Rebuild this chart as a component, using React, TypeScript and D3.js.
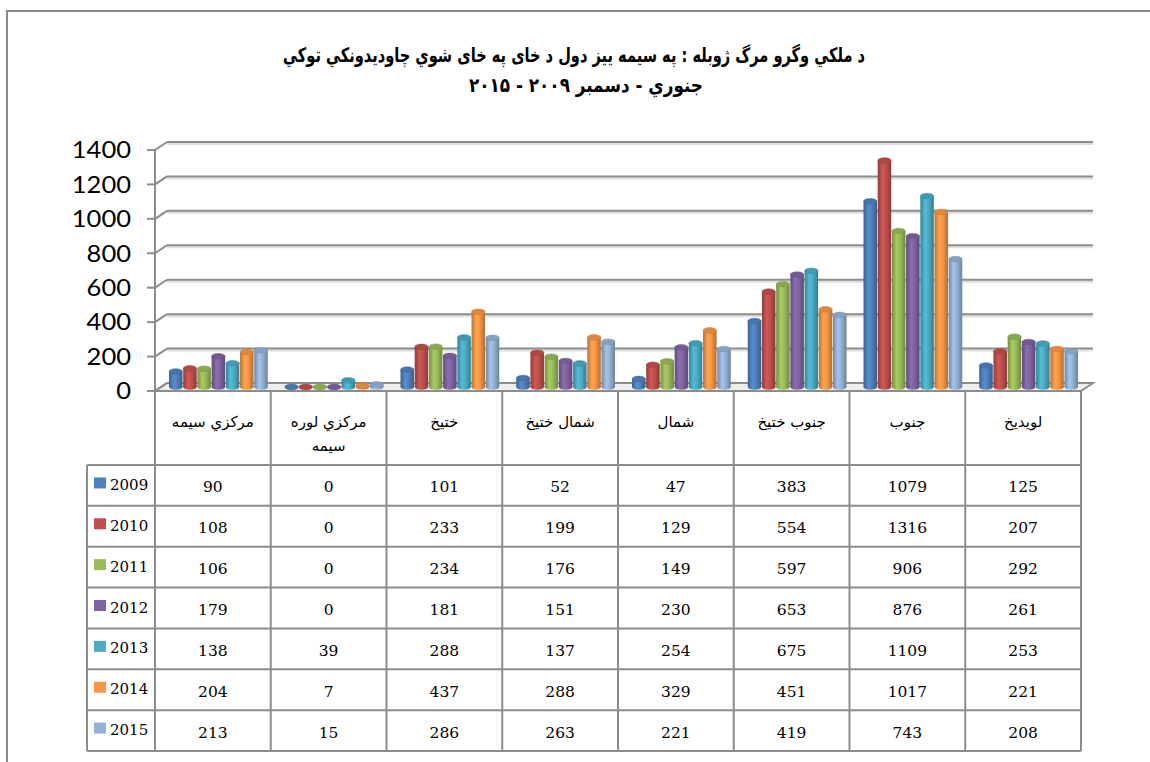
import React from "react";
import * as d3 from "d3";

const categories = ["مركزي سيمه", "مركزي لوره سيمه", "ختيخ", "شمال ختيخ", "شمال", "جنوب ختيخ", "جنوب", "لويديخ"];
const categoryLines = [["مركزي سيمه"], ["مركزي لوره", "سيمه"], ["ختيخ"], ["شمال ختيخ"], ["شمال"], ["جنوب ختيخ"], ["جنوب"], ["لويديخ"]];
const years = ["2009", "2010", "2011", "2012", "2013", "2014", "2015"];
const v2009 = [90, 0, 101, 52, 47, 383, 1079, 125];
const v2010 = [108, 0, 233, 199, 129, 554, 1316, 207];
const v2011 = [106, 0, 234, 176, 149, 597, 906, 292];
const v2012 = [179, 0, 181, 151, 230, 653, 876, 261];
const v2013 = [138, 39, 288, 137, 254, 675, 1109, 253];
const v2014 = [204, 7, 437, 288, 329, 451, 1017, 221];
const v2015 = [213, 15, 286, 263, 221, 419, 743, 208];
const series = [v2009, v2010, v2011, v2012, v2013, v2014, v2015];
const colors = ["#4F81BD", "#C0504D", "#9BBB59", "#8064A2", "#4BACC6", "#F79646", "#95B3D7"];
const yTicks = [0, 200, 400, 600, 800, 1000, 1200, 1400];
const title1 = "د ملكي وگرو مرگ ژوبله : په سيمه ييز دول د خاى په خاى شوي چاوديدونكي توكي";
const title2 = "جنوري - دسمبر ۲۰۰۹ - ۲۰۱۵";

const W = 1150, H = 762;
const plotLeft = 155, plotRight = 1081;
const y0 = 391, yTopPx = 150;
const depthX = 12, depthY = -8;
const tableTop = 465, tableBottom = 751, legendLeft = 87;
const gridColor = "#8c8c8c";

export default function App() {
  const x = d3.scaleBand<string>().domain(categories).range([plotLeft, plotRight]).paddingInner(0).paddingOuter(0);
  const xInner = d3.scaleBand<string>().domain(years).range([8, x.bandwidth() - 9]).paddingInner(0.05);
  const y = d3.scaleLinear().domain([0, 1400]).range([y0, yTopPx]);
  const rowH = (tableBottom - tableTop) / years.length;
  const rowY = d3.scaleBand<string>().domain(years).range([tableTop, tableBottom]);

  const bw = xInner.bandwidth();
  const ry = 2.8;

  return (
    <svg width={W} height={H} style={{ position: "absolute", left: 0, top: 0, background: "#fff" }}>
      <defs>
        {colors.map((c, i) => {
          const base = d3.color(c)!;
          return (
            <linearGradient id={`g${i}`} key={i} x1="0" x2="1" y1="0" y2="0">
              <stop offset="0%" stopColor={base.darker(0.8).toString()} />
              <stop offset="35%" stopColor={base.brighter(0.25).toString()} />
              <stop offset="60%" stopColor={c} />
              <stop offset="100%" stopColor={base.darker(0.9).toString()} />
            </linearGradient>
          );
        })}
      </defs>
      <rect x={7} y={11} width={1200} height={800} fill="none" stroke="#8a8a8a" strokeWidth={2} />

      {/* title */}
      <g fontFamily="DejaVu Sans" fontWeight="bold" fontSize={20} textAnchor="middle" fill="#000">
        <text x={574} y={62} direction="rtl" textLength={582} lengthAdjust="spacingAndGlyphs">{title1}</text>
        <text x={586} y={92} direction="rtl" textLength={234} lengthAdjust="spacingAndGlyphs">{title2}</text>
      </g>

      {/* floor */}
      <polygon
        points={`${plotLeft},${y0} ${plotRight},${y0} ${plotRight + depthX},${y0 + depthY} ${plotLeft + depthX},${y0 + depthY}`}
        fill="#eeeeee" stroke={gridColor} strokeWidth={2} />

      {/* gridlines */}
      {yTicks.map((t) => (
        <g key={t}>
          {t > 0 && (
            <line x1={plotLeft + depthX} x2={plotRight + depthX} y1={y(t) + depthY + 2} y2={y(t) + depthY + 2} stroke="#dedede" strokeWidth={2} />
          )}
          {t > 0 && (
            <line x1={plotLeft + depthX} x2={plotRight + depthX} y1={y(t) + depthY} y2={y(t) + depthY} stroke={gridColor} strokeWidth={2} />
          )}
          <line x1={plotLeft} x2={plotLeft + depthX} y1={y(t)} y2={y(t) + depthY} stroke={gridColor} strokeWidth={2} />
          <line x1={plotLeft - 8} x2={plotLeft} y1={y(t)} y2={y(t)} stroke={gridColor} strokeWidth={2} />
          <text x={131} y={y(t)} dy="0.36em" textAnchor="end" fontFamily="Lato" fontSize={23} fill="#000"
            textLength={String(t).length * 14.8} lengthAdjust="spacingAndGlyphs">{t}</text>
        </g>
      ))}
      <line x1={plotLeft} x2={plotLeft} y1={yTopPx} y2={tableBottom} stroke={gridColor} strokeWidth={2} />

      {/* bars */}
      {categories.map((c, ci) => (
        <g key={c}>
          {series.map((vals, si) => {
            const v = vals[ci];
            const bx = (x(c) as number) + (xInner(years[si]) as number) + depthX / 2;
            const by0 = y(0) + depthY / 2;
            const by1 = y(v) + depthY / 2;
            const h = by0 - by1;
            const base = d3.color(colors[si])!;
            return (
              <g key={si}>
                <ellipse cx={bx + bw / 2} cy={by0} rx={bw / 2} ry={ry} fill={`url(#g${si})`} />
                {h > 0 && <rect x={bx} y={by1} width={bw} height={h} fill={`url(#g${si})`} />}
                <ellipse cx={bx + bw / 2} cy={by1} rx={bw / 2} ry={ry}
                  fill={base.darker(0.3).toString()} stroke={base.darker(0.6).toString()} strokeWidth={0.5} />
              </g>
            );
          })}
        </g>
      ))}

      {/* table */}
      <g stroke={gridColor} strokeWidth={2} fill="none">
        <line x1={plotRight} x2={plotRight} y1={y0} y2={tableBottom} />
        {categories.map((c, ci) => ci > 0 && (
          <line key={c} x1={x(c)} x2={x(c)} y1={y0} y2={tableBottom} />
        ))}
        <line x1={legendLeft} x2={legendLeft} y1={tableTop} y2={tableBottom} />
        {years.map((yr) => (
          <line key={yr} x1={legendLeft} x2={plotRight} y1={rowY(yr)} y2={rowY(yr)} />
        ))}
        <line x1={legendLeft} x2={plotRight} y1={tableBottom} y2={tableBottom} />
      </g>

      {categories.map((c, ci) => {
        const lines = categoryLines[ci];
        const cx = (x(c) as number) + x.bandwidth() / 2;
        return (
          <text key={c} textAnchor="middle" fontFamily="DejaVu Sans" fontSize={15} fill="#000" direction="rtl">
            {lines.map((l, li) => (
              <tspan key={li} x={cx} y={lines.length === 1 ? 427 : 427 + li * 24}>{l}</tspan>
            ))}
          </text>
        );
      })}

      {years.map((yr, si) => {
        const ry0 = rowY(yr) as number;
        return (
          <g key={yr}>
            <rect x={94} y={ry0 + rowH / 2 - 8} width={12} height={11} fill={colors[si]} />
            <text x={110} y={ry0 + rowH / 2} dy="0.3em" fontFamily="DejaVu Serif" fontSize={15} fill="#000">{yr}</text>
            {series[si].map((v, ci) => (
              <text key={ci} x={(x(categories[ci]) as number) + x.bandwidth() / 2} y={ry0 + rowH / 2} dy="0.45em"
                textAnchor="middle" fontFamily="DejaVu Serif" fontSize={15.5} fill="#000">{v}</text>
            ))}
          </g>
        );
      })}
    </svg>
  );
}
